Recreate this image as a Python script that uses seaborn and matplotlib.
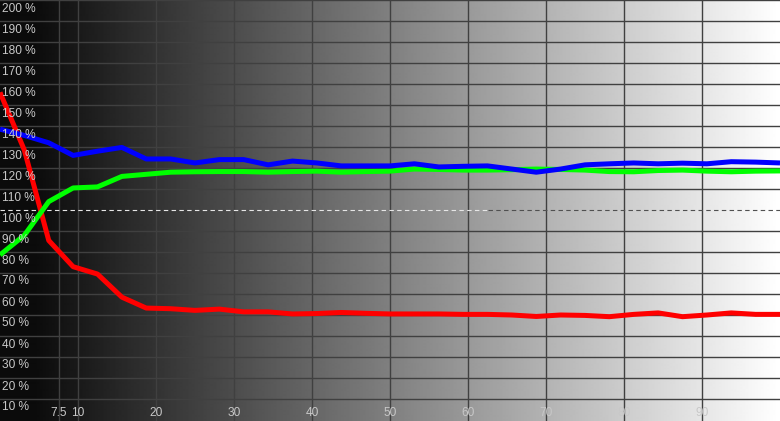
import numpy as np
import pandas as pd
import matplotlib
matplotlib.use("Agg")
import matplotlib.pyplot as plt
import seaborn as sns

# ---- data ----
stimulus = [i * 3.125 for i in range(33)]
red = [156, 128.5, 85.5, 73, 69.5, 58.5, 53.3, 53, 52.2, 52.8, 51.5, 51.5, 50.5,
       50.7, 51.2, 50.8, 50.5, 50.5, 50.5, 50.3, 50.3, 50, 49.3, 50, 49.8, 49.2,
       50.3, 51, 49.2, 50, 51, 50.3, 50.3]
green = [78.6, 88, 104, 110.5, 111, 116, 117, 118, 118.2, 118.3, 118.3, 118, 118.3,
         118.5, 118, 118.3, 118.5, 119.5, 119.3, 119, 119, 119.2, 119.5, 119.3, 119,
         118.3, 118.2, 118.8, 119, 118.5, 118.2, 118.5, 118.6]
blue = [138.5, 135.5, 132, 126, 128, 129.8, 124.3, 124.3, 122.4, 124, 124, 121.5,
        123.3, 122.4, 121, 121, 121, 122, 120.5, 120.8, 121, 119.5, 118, 119.5,
        121.5, 122, 122.4, 122, 122.3, 122, 123, 122.8, 122.4]
x_ticks = [7.5, 10, 20, 30, 40, 50, 60, 70, 80, 90]
x_tick_labels = ["7.5", "10", "20", "30", "40", "50", "60", "70", "80", "90"]
y_ticks = list(range(10, 201, 10))

plt.rcParams['font.family'] = ['Liberation Sans', 'DejaVu Sans']

W, H, DPI = 780, 421, 100
fig = plt.figure(figsize=(W / DPI, H / DPI), dpi=DPI)
ax = fig.add_axes([0, 0, 1, 1])
ymin = 200 - H / 2.1
ax.set_xlim(0, 100)
ax.set_ylim(ymin, 200)
for s in ax.spines.values():
    s.set_visible(False)
ax.set_xticks([])
ax.set_yticks([])

# gradient background
grad = np.linspace(0, 1, 780)
grad = np.clip(grad, 0.045, 1.0)
ax.imshow(grad[np.newaxis, :], cmap="gray", vmin=0, vmax=1, aspect="auto",
          extent=[0, 100, ymin, 200], zorder=0, interpolation="bilinear")

grid_c = "#404040"
for xv in x_ticks:
    ax.axvline(xv, color=grid_c, lw=1, zorder=1)
for yv in y_ticks:
    if yv == 100:
        continue
    ax.axhline(yv, color=grid_c, lw=1, zorder=1)

# dashed 100% reference
ax.plot([0, 62.5], [100, 100], color="#e6e6e6", lw=0.8, ls=(0, (4, 3)), zorder=2)
ax.plot([62.5, 100], [100, 100], color="#505050", lw=0.8, ls=(0, (4, 3)), zorder=2)

df = pd.DataFrame({"x": stimulus, "Red": red, "Green": green, "Blue": blue})
long = df.melt(id_vars="x", var_name="ch", value_name="v")
sns.lineplot(data=long, x="x", y="v", hue="ch", hue_order=["Red", "Green", "Blue"],
             palette={"Red": "#ff0000", "Green": "#00ff00", "Blue": "#0000ff"},
             linewidth=3.6, legend=False, ax=ax, zorder=3, sort=False)
for ln in ax.lines[-3:]:
    ln.set_solid_joinstyle("round")
    ln.set_solid_capstyle("butt")
ax.set_xlabel("")
ax.set_ylabel("")

txt_c = "#c8c8c8"
for yv in y_ticks:
    ax.annotate(f"{yv} %", xy=(0, yv), xytext=(2.5, -2.5), textcoords="offset pixels",
                ha="left", va="top", fontsize=8.6, color=txt_c, zorder=4)
for xv, lab in zip(x_ticks, x_tick_labels):
    ax.annotate(lab, xy=(xv, ymin), xytext=(0, 8), textcoords="offset pixels",
                ha="center", va="center", fontsize=8.6, color=txt_c, zorder=4)

fig.savefig("out.png", dpi=DPI)
